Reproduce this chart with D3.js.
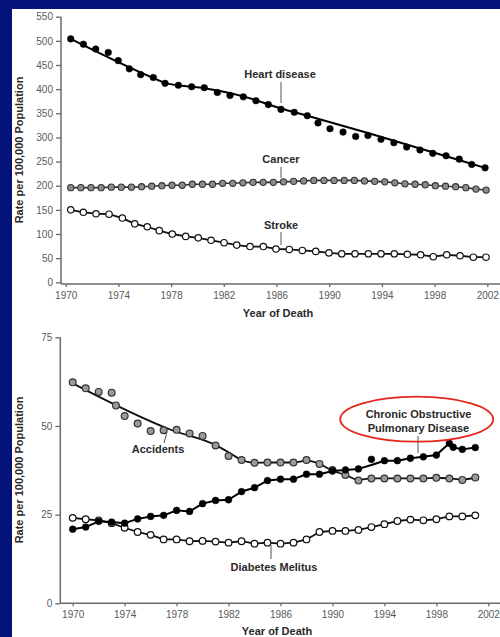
<!DOCTYPE html>
<html><head><meta charset="utf-8">
<script src="https://cdn.jsdelivr.net/npm/d3@7"></script>
<style>
body{margin:0;background:#04137a;}
svg{display:block;}
text{font-family:"Liberation Sans",Arial,sans-serif;}
</style></head>
<body><svg id="c" width="500" height="637"></svg>
<script>
// ---------- data ----------
const xTickYears = [1970,1974,1978,1982,1986,1990,1994,1998,2002];
const topYTicks = [0,50,100,150,200,250,300,350,400,450,500,550];
const bottomYTicks = [0,25,50,75];

const heartYears = [1970.38,1971.34,1972.28,1973.23,1973.99,1974.83,1975.69,1976.65,1977.54,1978.55,1979.56,1980.52,1981.51,1982.47,1983.48,1984.44,1985.38,1986.34,1987.35,1988.34,1989.15,1990.06,1991.05,1992.01,1992.94,1993.93,1994.91,1995.88,1996.89,1997.86,1998.87,1999.87,2000.82,2001.83];
const heartValues = [504,493,483,476,459,442,430,424,412,408,405,403,393,387,384,376,368,358,352,345,330,318,311,302,304,296,289,280,274,267,262,255,244,237];
const heartLineYears = [1970.38,1976.65,1977.54,1979.56,1980.52,1983.48,1986.34,1988.34,1992.94,1996.89,2001.83];
const heartLineValues = [504,423,413,405,402,385,360,345,309,277,237];

const cancerYears = [1970.38,1971.15,1971.92,1972.69,1973.46,1974.22,1974.99,1975.76,1976.53,1977.30,1978.07,1978.84,1979.61,1980.38,1981.14,1981.91,1982.68,1983.45,1984.22,1984.99,1985.76,1986.53,1987.30,1988.06,1988.83,1989.60,1990.37,1991.14,1991.91,1992.68,1993.45,1994.22,1994.98,1995.75,1996.52,1997.29,1998.06,1998.83,1999.60,2000.37,2001.14,2001.91];
const cancerValues = [196,196,196,196,197,197,197,198,199,200,201,201,203,203,203,205,205,206,207,207,207,208,209,210,211,211,211,211,211,210,209,208,206,204,203,202,200,199,198,196,193,191];

const strokeYears = [1970.38,1971.34,1972.30,1973.29,1974.30,1975.24,1976.19,1977.10,1978.09,1979.11,1980.06,1981.03,1982.02,1982.98,1983.99,1985.00,1985.96,1986.97,1987.96,1988.98,1989.98,1990.95,1991.96,1992.97,1993.93,1994.94,1995.93,1996.94,1997.90,1998.92,1999.93,2000.94,2001.90];
const strokeValues = [150,145,142,141,133,121,115,107,100,95,92,87,82,77,74,74,69,68,66,64,61,59,59,59,59,59,58,57,53,57,55,52,52];

const accidentYears = [1970,1971,1972,1973,1973.33,1974,1975,1976,1977,1978,1979,1980,1981,1982,1983,1984,1985,1986,1987,1988,1989,1990,1991,1992,1993,1994,1995,1996,1997,1998,1999,2000,2001];
const accidentValues = [62.3,60.6,59.6,59.4,55.8,52.8,50.7,48.6,48.8,48.9,47.9,47.2,44.5,41.5,40.4,39.6,39.7,39.7,39.7,40.4,39.3,37.6,36.2,34.6,35.2,35.2,35.2,35.2,35.2,35.4,35.2,34.8,35.5];
const accidentLineYears = [1970,1977.5,1981,1982,1983,1984,1985,1986,1987,1988,1989,1990,1991,1992,1993,1994,1995,1996,1997,1998,1999,2000,2001];
const accidentLineValues = [62.0,49.0,44.6,42.6,40.4,39.6,39.7,39.7,39.7,40.2,39.3,37.4,36.2,34.8,35.2,35.2,35.2,35.2,35.2,35.4,35.2,34.9,35.4];

const copdYears = [1970,1971,1972,1973,1974,1975,1976,1977,1978,1979,1980,1981,1982,1983,1984,1985,1986,1987,1988,1989,1990,1991,1992,1993,1994,1995,1996,1997,1998,1999,1999.3,2000,2001];
const copdValues = [20.9,21.5,23.1,22.9,22.6,23.8,24.5,24.8,26.2,25.9,28.1,29.0,29.2,31.5,32.6,34.6,35.0,35.0,36.4,36.4,37.3,37.6,37.9,40.6,40.2,40.2,40.9,41.3,41.8,45.1,44.0,43.4,43.9];
const copdLineValues = [20.9,21.5,23.1,22.9,22.6,23.8,24.5,24.8,26.2,25.9,28.1,29.0,29.2,31.5,32.6,34.6,35.0,35.0,36.4,36.4,37.3,37.6,37.9,39.0,40.2,40.2,40.9,41.3,41.8,45.1,44.0,43.4,43.9];

const diabetesYears = [1970,1971,1972,1973,1974,1975,1976,1977,1978,1979,1980,1981,1982,1983,1984,1985,1986,1987,1988,1989,1990,1991,1992,1993,1994,1995,1996,1997,1998,1999,2000,2001];
const diabetesValues = [24.1,23.7,23.4,22.6,21.3,20.1,19.3,18.0,18.0,17.5,17.6,17.4,17.1,17.5,16.8,17.1,16.8,17.1,18.0,20.1,20.4,20.4,20.7,21.5,22.3,23.2,23.6,23.4,23.7,24.5,24.5,24.8];

// ---------- drawing ----------
const svg = d3.select("#c");
svg.append("rect").attr("x",12).attr("y",9).attr("width",488).attr("height",628).attr("fill","#ffffff");

const xTop = d3.scaleLinear().domain([1970,2002]).range([65.7,487.3]);
const yTop = d3.scaleLinear().domain([0,550]).range([282.3,16.7]);
const xBot = d3.scaleLinear().domain([1970,2002]).range([72.7,488.3]);
const yBot = d3.scaleLinear().domain([0,75]).range([603.3,337.3]);

const axisColor = "#6a6a6a", tickText = "#5a5a5a", labelColor = "#2a2a2a";

function drawAxes(x, y, yTicks, axisX, axisY, yTopPx){
  const gy = svg.append("g").attr("transform",`translate(${axisX},0)`)
    .call(d3.axisLeft(y).tickValues(yTicks).tickSize(5).tickSizeOuter(0).tickPadding(3));
  gy.select(".domain").remove();
  gy.selectAll(".tick line").attr("stroke",axisColor).attr("stroke-width",1.3);
  gy.selectAll(".tick text").attr("fill",tickText).style("font-size","10px").style("font-family","'Liberation Sans',Arial,sans-serif");
  const gx = svg.append("g").attr("transform",`translate(0,${axisY})`)
    .call(d3.axisBottom(x).tickValues(xTickYears).tickFormat(d3.format("d")).tickSize(3).tickSizeOuter(0).tickPadding(5));
  gx.select(".domain").remove();
  gx.selectAll(".tick line").attr("stroke",axisColor).attr("stroke-width",1.3);
  gx.selectAll(".tick text").attr("fill",tickText).style("font-size","10px").style("font-family","'Liberation Sans',Arial,sans-serif");
  svg.append("line").attr("x1",axisX).attr("x2",axisX).attr("y1",yTopPx).attr("y2",axisY)
    .attr("stroke",axisColor).attr("stroke-width",1.5);
  svg.append("line").attr("x1",axisX).attr("x2",500).attr("y1",axisY).attr("y2",axisY)
    .attr("stroke",axisColor).attr("stroke-width",1.5);
}
drawAxes(xTop, yTop, topYTicks, 61, 284, yTop(550));
drawAxes(xBot, yBot, bottomYTicks, 60.3, 603.3, yBot(75));

function zip(a,b){ return a.map((v,i)=>[v,b[i]]); }

function drawLine(x, y, years, values, curve, color, width){
  svg.append("path").datum(zip(years,values))
    .attr("d", d3.line().x(d=>x(d[0])).y(d=>y(d[1])).curve(curve))
    .attr("fill","none").attr("stroke",color).attr("stroke-width",width).attr("stroke-linejoin","round");
}
function drawDots(x, y, years, values, r, fill, stroke, sw){
  svg.append("g").selectAll("circle").data(zip(years,values)).join("circle")
    .attr("cx",d=>x(d[0])).attr("cy",d=>y(d[1])).attr("r",r)
    .attr("fill",fill).attr("stroke",stroke).attr("stroke-width",sw);
}

// top chart
drawLine(xTop,yTop,strokeYears,strokeValues,d3.curveLinear,"#111",1.8);
drawDots(xTop,yTop,strokeYears,strokeValues,3.2,"#fff","#111",1.2);
drawLine(xTop,yTop,cancerYears,cancerValues,d3.curveLinear,"#333",1.6);
drawDots(xTop,yTop,cancerYears,cancerValues,3.1,"#8c8c8c","#333",1.1);
drawLine(xTop,yTop,heartLineYears,heartLineValues,d3.curveMonotoneX,"#000",2);
drawDots(xTop,yTop,heartYears,heartValues,3.3,"#000","#000",0.5);

// bottom chart
drawLine(xBot,yBot,diabetesYears,diabetesValues,d3.curveLinear,"#111",1.8);
drawDots(xBot,yBot,diabetesYears,diabetesValues,3.3,"#fff","#111",1.2);
drawLine(xBot,yBot,accidentLineYears,accidentLineValues,d3.curveMonotoneX,"#111",1.8);
drawDots(xBot,yBot,accidentYears,accidentValues,3.4,"#9a9a9a","#333",1.2);
drawLine(xBot,yBot,copdYears,copdLineValues,d3.curveLinear,"#000",2);
drawDots(xBot,yBot,copdYears,copdValues,3.4,"#000","#000",0.5);

// labels
function label(txt, x, y, size){
  svg.append("text").attr("x",x).attr("y",y).attr("text-anchor","middle")
    .attr("fill",labelColor).style("font-size",(size||11)+"px").style("font-weight","bold").text(txt);
}
function leader(x1,y1,x2,y2){
  svg.append("line").attr("x1",x1).attr("y1",y1).attr("x2",x2).attr("y2",y2)
    .attr("stroke","#555").attr("stroke-width",1);
}
label("Heart disease", 280, 78); leader(281,82,281,103);
label("Cancer", 281, 163); leader(281,167,281,178);
label("Stroke", 281, 229); leader(281,232,281,245);
label("Accidents", 158, 453); leader(167,432,164,443);
label("Diabetes Melitus", 274, 571); leader(271,545,271,559);
label("Chronic Obstructive", 418.5, 418); label("Pulmonary Disease", 418.5, 431.5); leader(418,436,418,453);
svg.append("ellipse").attr("cx",416.7).attr("cy",419.2).attr("rx",76.5).attr("ry",22.5)
  .attr("fill","none").attr("stroke","#e4261c").attr("stroke-width",1.8);

// axis titles
label("Year of Death", 278, 317);
label("Year of Death", 277, 635);
svg.append("text").attr("transform","translate(23,150) rotate(-90)").attr("text-anchor","middle")
  .attr("fill",labelColor).style("font-size","11px").style("font-weight","bold").text("Rate per 100,000 Population");
svg.append("text").attr("transform","translate(23,470) rotate(-90)").attr("text-anchor","middle")
  .attr("fill",labelColor).style("font-size","11px").style("font-weight","bold").text("Rate per 100,000 Population");
</script></body></html>
